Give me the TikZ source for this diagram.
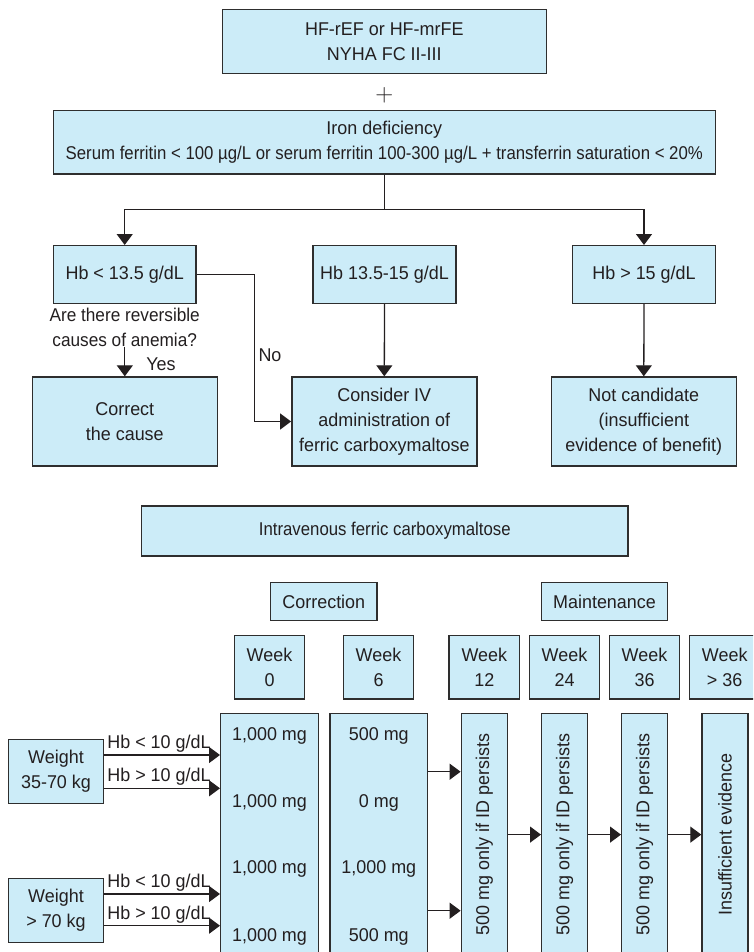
\documentclass[tikz,border=0pt]{standalone}
\usepackage{graphicx}
\usepackage{fontspec}
\setmainfont{Liberation Sans}[FakeStretch=0.97]
\usetikzlibrary{arrows.meta}
\definecolor{boxfill}{HTML}{CCECF8}
\definecolor{edge}{HTML}{2E2E2E}
\definecolor{ink}{HTML}{231F20}
% horizontally condensed text for the long lines
\newcommand{\narrowtext}[2][0.935]{\scalebox{#1}[1]{#2}}
\begin{document}
\begin{tikzpicture}[x=1pt,y=-1pt,
  every node/.style={text=ink, font=\fontsize{18.5}{25}\selectfont},
  box/.style={draw=edge, fill=boxfill, line width=1.4pt, inner sep=0pt, align=center},
  link/.style={draw=ink, line width=1.3pt},
  arr/.style={link, -{Triangle[length=11pt,width=16pt]}},
  tag/.style={inner sep=0pt, anchor=base west},
  hbbox/.style={box, minimum width=142.7, minimum height=57.6},
  resbox/.style={box, minimum width=185, minimum height=89},
  phase/.style={box, minimum height=38},
  week/.style={box, minimum width=70.4, minimum height=63.7},
  dose/.style={box, minimum width=97.6, minimum height=242.7},
  slim/.style={box, minimum width=46, minimum height=242.7},
  weight/.style={box, minimum width=95.4, minimum height=64},
  upright/.style={rotate=90, inner sep=0pt},
  amount/.style={inner sep=0pt, anchor=base},
]
\useasboundingbox (0,0) rectangle (753,952);
\clip (0,0) rectangle (753,952);

% ---------- selection of patients ----------
\node[box, minimum width=324, minimum height=64] (hf) at (384.3,41.3)
  {HF-rEF or HF-mrFE\\NYHA FC II-III};
\node[inner sep=0pt, font=\fontsize{24}{24}\selectfont] (plus) at (384.3,95) {$+$};
\node[box, minimum width=662, minimum height=63.3] (iron) at (384.3,142.3)
  {Iron deficiency\\\narrowtext{Serum ferritin < 100 µg/L or serum ferritin 100-300 µg/L + transferrin saturation < 20\%}};
\coordinate (split) at (384.3,209.3);

\node[hbbox] (hblow)  at (124.7,274.5) {Hb < 13.5 g/dL};
\node[hbbox] (hbmid)  at (384.5,274.5) {Hb 13.5-15 g/dL};
\node[hbbox] (hbhigh) at (644,274.5)   {Hb > 15 g/dL};

\node[align=center, inner sep=0pt, font=\fontsize{18.5}{24.5}\selectfont] (ask) at (124.7,327.3)
  {\narrowtext[0.96]{Are there reversible}\\\narrowtext[0.96]{causes of anemia?}};

\node[resbox] (correct)  at (124.8,421.5) {Correct\\the cause};
\node[resbox] (consider) at (384.3,421.5) {Consider IV\\administration of\\ferric carboxymaltose};
\node[resbox] (notcand)  at (643.8,421.5) {Not candidate\\(insufficient\\evidence of benefit)};

\draw[link] (iron.south) -- (split);
\draw[arr] (split) -| (hblow.north);
\draw[arr] (split) -| (hbhigh.north);
\draw[arr] (correct.north |- ask.south) -- (correct.north)
  node[tag] at (145.7,370) {Yes};
\draw[arr] (hblow.east) -- ++(58,0) |- (consider.west);
\node[tag] (no) at (258.3,361.7) {No};
\draw[arr] (hbmid.south) -- (consider.north);
\draw[arr] (hbhigh.south) -- (notcand.north);

% ---------- dosing scheme ----------
\node[box, minimum width=486.3, minimum height=50] (iv) at (384.8,531)
  {\narrowtext{Intravenous ferric carboxymaltose}};
\node[phase, minimum width=106.3] (correction)  at (323.8,601.5) {Correction};
\node[phase, minimum width=126.4] (maintenance) at (604.5,601.5) {Maintenance};

\node[week] (w0)   at (269.5,667.2) {Week\\0};
\node[week] (w6)   at (378.5,667.2) {Week\\6};
\node[week] (w12)  at (484.3,667.2) {Week\\12};
\node[week] (w24)  at (564.5,667.2) {Week\\24};
\node[week] (w36)  at (644.5,667.2) {Week\\36};
\node[week] (wend) at (724.7,667.2) {Week\\> 36};

\node[dose] (d0) at (269.5,834.6) {};
\node[dose] (d6) at (378.8,834.6) {};
\node[amount] (d0a) at (269.5,740)   {1,000 mg};
\node[amount] (d0b) at (269.5,807)   {1,000 mg};
\node[amount] (d0c) at (269.5,873.5) {1,000 mg};
\node[amount] (d0d) at (269.5,941)   {1,000 mg};
\node[amount] (d6a) at (378.8,740)   {500 mg};
\node[amount] (d6b) at (378.8,807)   {0 mg};
\node[amount] (d6c) at (378.8,873.5) {1,000 mg};
\node[amount] (d6d) at (378.8,941)   {500 mg};

\node[slim] (v12)  at (484.3,834.6) {};
\node[slim] (v24)  at (564.7,834.6) {};
\node[slim] (v36)  at (644.7,834.6) {};
\node[slim] (vend) at (725,834.6)   {};
\node[upright] (t12)  at (v12)  {500 mg only if ID persists};
\node[upright] (t24)  at (v24)  {500 mg only if ID persists};
\node[upright] (t36)  at (v36)  {500 mg only if ID persists};
\node[upright] (tend) at (vend) {Insufficient evidence};

\node[weight] (wa) at (56,771.3) {Weight\\35-70 kg};
\node[weight] (wb) at (56,910.3) {Weight\\> 70 kg};

\draw[arr] ([yshift=16.3pt]wa.east) -- ([yshift=16.3pt]wa.east -| d0.west)
  node[pos=0, tag, xshift=2.3pt, yshift=6.7pt] {Hb < 10 g/dL};
\draw[arr] ([yshift=-17pt]wa.east) -- ([yshift=-17pt]wa.east -| d0.west)
  node[pos=0, tag, xshift=2.3pt, yshift=6.7pt] {Hb > 10 g/dL};
\draw[arr] ([yshift=16.3pt]wb.east) -- ([yshift=16.3pt]wb.east -| d0.west)
  node[pos=0, tag, xshift=2.3pt, yshift=6.7pt] {Hb < 10 g/dL};
\draw[arr] ([yshift=-15.4pt]wb.east) -- ([yshift=-15.4pt]wb.east -| d0.west)
  node[pos=0, tag, xshift=2.3pt, yshift=6.7pt] {Hb > 10 g/dL};

\draw[arr] ([yshift=62.9pt]d6.east) -- ([yshift=62.9pt]d6.east -| v12.west);
\draw[arr] ([yshift=-76.1pt]d6.east) -- ([yshift=-76.1pt]d6.east -| v12.west);
\draw[arr] (v12.east) -- (v24.west);
\draw[arr] (v24.east) -- (v36.west);
\draw[arr] (v36.east) -- (vend.west);
\end{tikzpicture}
\end{document}
